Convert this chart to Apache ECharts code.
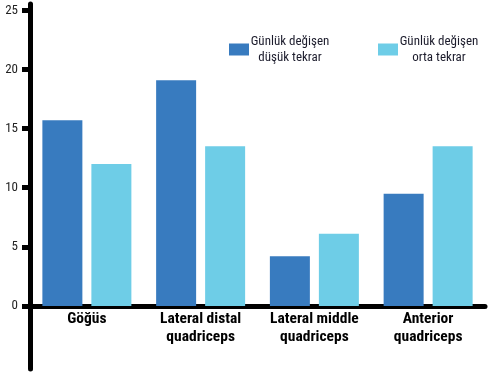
<!DOCTYPE html>
<html>
<head>
<meta charset="utf-8">
<script src="https://cdn.jsdelivr.net/npm/echarts@6/dist/echarts.min.js"></script>
<style>html,body{margin:0;padding:0;background:#fff;}#c{width:504px;height:377px;}</style>
</head>
<body>
<div id="c"></div>
<script>
var categories = ['Göğüs', 'Lateral distal\nquadriceps', 'Lateral middle\nquadriceps', 'Anterior\nquadriceps'];
var seriesNames = ['Günlük değişen\ndüşük tekrar', 'Günlük değişen\norta tekrar'];
var lowRepValues = [15.7, 19.1, 4.2, 9.5];
var midRepValues = [12.0, 13.5, 6.1, 13.5];
var yTicks = [0, 5, 10, 15, 20, 25];

var FONT = "Roboto, 'DejaVu Sans Condensed', sans-serif";
var DARK = '#387bbf', LIGHT = '#6ecde7';
var Y_MIN = -5.33, Y_MAX = 25.54, GRID_TOP = 4, GRID_BOTTOM = 8, H = 377;

function legendFor(name, left) {
  return {
    data: [name],
    left: left, top: 35,
    padding: 0,
    orient: 'horizontal',
    itemWidth: 20, itemHeight: 12, itemGap: 0,
    icon: 'rect',
    selectedMode: false,
    formatter: function (n) {
      return n.split('\n').map(function (s) { return '{a|' + s + '}'; }).join('\n');
    },
    textStyle: {
      fontFamily: FONT, fontStyle: 'condensed', fontSize: 13, color: '#1c1c2c',
      rich: { a: { fontFamily: FONT, fontStyle: 'condensed', fontSize: 13, color: '#1c1c2c', width: 72, align: 'center', lineHeight: 16 } }
    }
  };
}

// place the category axis on the value-axis zero line
var gridH = H - GRID_TOP - GRID_BOTTOM;
var zeroFromBottom = (0 - Y_MIN) / (Y_MAX - Y_MIN) * gridH;

var chart = echarts.init(document.getElementById('c'), null, { renderer: 'canvas' });
chart.setOption({
  animation: false,
  backgroundColor: '#fff',
  legend: [legendFor(seriesNames[0], 229), legendFor(seriesNames[1], 378)],
  grid: { left: 30, right: 19, top: GRID_TOP, bottom: GRID_BOTTOM, containLabel: false, outerBoundsMode: 'none' },
  xAxis: {
    type: 'category',
    data: categories,
    offset: -zeroFromBottom,
    axisLine: { show: true, onZero: false, lineStyle: { color: '#000', width: 5 } },
    axisTick: { show: false },
    axisLabel: { interval: 0, margin: 4, color: '#000', fontFamily: FONT, fontStyle: 'condensed', fontWeight: 'bold', fontSize: 15.5, lineHeight: 18 }
  },
  yAxis: {
    type: 'value',
    min: Y_MIN, max: Y_MAX,
    splitLine: { show: false },
    axisLine: { show: true, onZero: false, lineStyle: { color: '#000', width: 5 } },
    axisTick: { show: true, length: 8, customValues: yTicks, lineStyle: { color: '#000', width: 5 } },
    axisLabel: { customValues: yTicks, margin: 12, color: '#222', fontFamily: FONT, fontStyle: 'condensed', fontSize: 13 }
  },
  series: [
    { name: seriesNames[0], type: 'bar', data: lowRepValues, barWidth: 40, barGap: '22.5%', itemStyle: { color: DARK } },
    { name: seriesNames[1], type: 'bar', data: midRepValues, barWidth: 40, barGap: '22.5%', itemStyle: { color: LIGHT } }
  ]
});
</script>
</body>
</html>
